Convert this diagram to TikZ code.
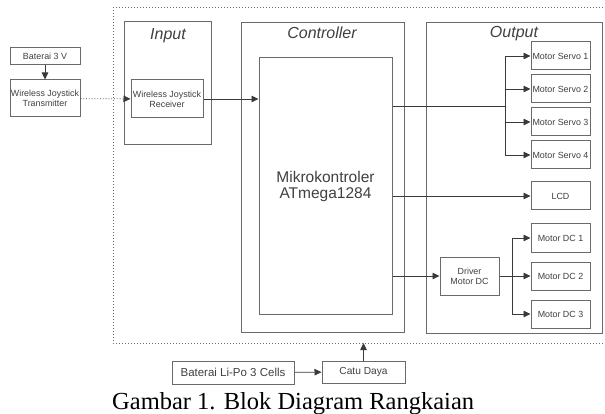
\documentclass[tikz,border=0pt]{standalone}
\usepackage{fontspec}
\setmainfont{Liberation Serif}
\setsansfont{Liberation Sans}
\usetikzlibrary{arrows.meta}
\definecolor{boxc}{HTML}{6A6A6A}
\definecolor{linec}{HTML}{3A3A3A}
\definecolor{txtc}{HTML}{404040}
\tikzset{
  blk/.style={draw=boxc,line width=1pt,fill=white,inner sep=0pt,align=center,
    text=txtc,font=\sffamily\fontsize{8.9}{10.2}\selectfont},
  frame/.style={draw=boxc,line width=1pt,inner sep=0pt},
  ttl/.style={anchor=base,text=txtc,font=\sffamily\itshape\fontsize{16}{18}\selectfont,inner sep=0pt},
  conn/.style={draw=linec,line width=0.8pt},
  arr/.style={conn,-{Triangle[length=7pt,width=6.5pt]}},
  dots/.style={draw=boxc,line width=1pt,dotted}
}
\begin{document}
\begin{tikzpicture}[x=1pt,y=-1pt]
\useasboundingbox (0,0) rectangle (605,414);
% dotted system frame
\coordinate (ftr) at (606,8);
\coordinate (ftl) at (113,8);
\coordinate (fbl) at (113,343);
\coordinate (fbr) at (606,343);
\draw[dots] (ftr) -- (ftl) -- (fbl) -- (fbr);
% group frames
\node[frame,minimum width=87,minimum height=123] (inbox) at (167.5,83.5) {};
\node[frame,minimum width=163,minimum height=309] (ctrl) at (322.5,177.5) {};
\node[frame,minimum width=176,minimum height=310] (outbox) at (514,178) {};
\node[ttl] (tin) at (168,39.5) {Input};
\node[ttl] (tctrl) at (322,38.5) {Controller};
\node[ttl] (tout) at (514,37.5) {Output};
% left side
\node[blk,minimum width=70,minimum height=17] (bat) at (45,56.5) {Baterai 3 V};
\node[blk,minimum width=70,minimum height=37] (tx) at (45,98.5) {Wireless Joystick\\Transmitter};
\node[blk,minimum width=72,minimum height=38] (rx) at (167,99) {Wireless Joystick\\Receiver};
% controller
\node[blk,minimum width=133,minimum height=256,font=\sffamily\fontsize{15.5}{16}\selectfont] (mcu) at (325.5,186) {Mikrokontroler\\ATmega1284};
% outputs
\node[blk,minimum width=59,minimum height=28] (s1) at (560.5,56) {Motor Servo 1};
\node[blk,minimum width=59,minimum height=28] (s2) at (560.5,89) {Motor Servo 2};
\node[blk,minimum width=59,minimum height=28] (s3) at (560.5,122) {Motor Servo 3};
\node[blk,minimum width=59,minimum height=28] (s4) at (560.5,155) {Motor Servo 4};
\node[blk,minimum width=59,minimum height=28] (lcd) at (560.5,196) {LCD};
\node[blk,minimum width=59,minimum height=28] (d1) at (560.5,238) {Motor DC 1};
\node[blk,minimum width=59,minimum height=28] (d2) at (560.5,276) {Motor DC 2};
\node[blk,minimum width=59,minimum height=28] (d3) at (560.5,314) {Motor DC 3};
\node[blk,minimum width=59,minimum height=38] (drv) at (469.5,276) {Driver\\Motor DC};
% power
\node[blk,minimum width=122,minimum height=23,font=\sffamily\fontsize{11.5}{12}\selectfont] (lipo) at (233,372.5) {Baterai Li-Po 3 Cells};
\node[blk,minimum width=83,minimum height=22,font=\sffamily\fontsize{10.2}{12}\selectfont] (catu) at (363.5,372) {Catu Daya};
\coordinate (pwr) at (363.5,343);
% caption
\node[anchor=base west,inner sep=0pt,font=\fontsize{24.5}{26}\selectfont] (cap) at (112,409) {Gambar 1. Blok Diagram Rangkaian};
% connectors
\draw[arr] (bat) -- (tx);
\draw[arr,dotted] (tx) -- (rx);
\draw[arr] (rx.east) -- (mcu.west |- rx.east);
\coordinate (sb) at (505,106);
\draw[conn] (mcu.east |- sb) -- (sb);
\draw[arr] (sb) |- (s1.west);
\draw[arr] (sb) |- (s4.west);
\draw[arr] (sb |- s2.west) -- (s2.west);
\draw[arr] (sb |- s3.west) -- (s3.west);
\draw[arr] (mcu.east |- lcd.west) -- (lcd.west);
\draw[arr] (mcu.east |- drv.west) -- (drv.west);
\coordinate (db) at (512,276);
\draw[arr] (drv.east) -- (d2.west);
\draw[arr] (db) |- (d1.west);
\draw[arr] (db) |- (d3.west);
\draw[arr] (lipo) -- (catu);
\draw[arr] (catu) -- (pwr);
\end{tikzpicture}
\end{document}
